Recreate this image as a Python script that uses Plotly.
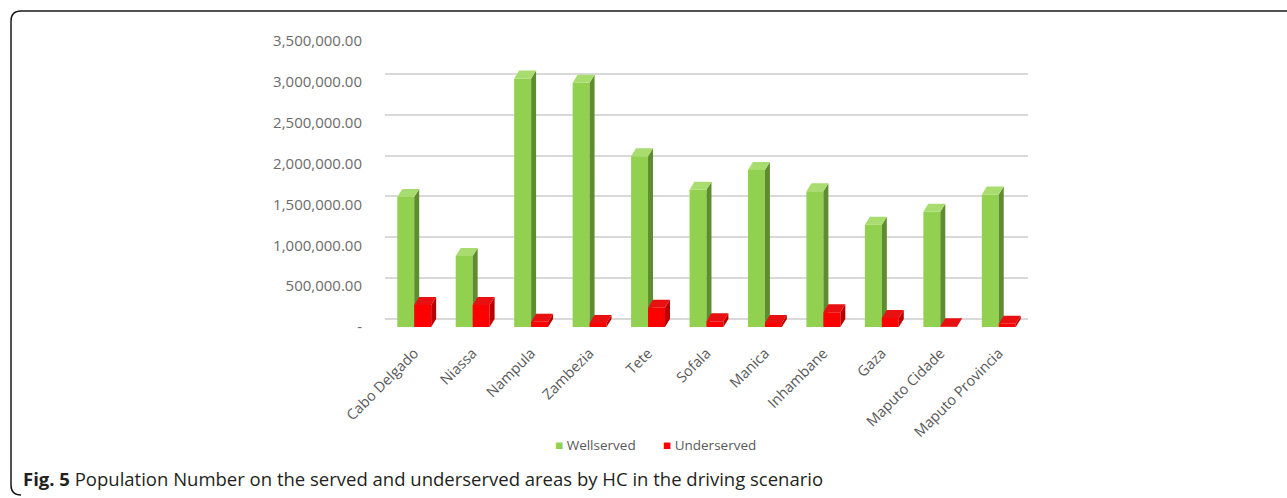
import plotly.graph_objects as go

# Provinces and population (people) per service category
provinces = ["Cabo Delgado", "Niassa", "Nampula", "Zambezia", "Tete", "Sofala",
             "Manica", "Inhambane", "Gaza", "Maputo Cidade", "Maputo Provincia"]
wellserved = [1590000, 870000, 3040000, 2990000, 2090000, 1680000,
              1920000, 1660000, 1250000, 1410000, 1620000]
underserved = [270000, 270000, 64000, 50000, 235000, 70000,
               50000, 180000, 110000, 10000, 40000]
y_ticks = [0, 500000, 1000000, 1500000, 2000000, 2500000, 3000000, 3500000]
y_tick_text = ["-", "500,000.00", "1,000,000.00", "1,500,000.00", "2,000,000.00",
               "2,500,000.00", "3,000,000.00", "3,500,000.00"]

W, H = 1287, 498
L, R, T, B = 385, 259, 41, 171
PW, PH = W - L - R, H - T - B
Y_MAX = 3500000

def px_x(px):
    return (px - L) / PW

def px_y(py):
    return (H - B - py) / PH

# pseudo-3D column geometry (in data units)
DX = 0.085
DY = Y_MAX / PH * 8
BAR_W = 0.29

def column_faces(vals, x_off):
    """Front, side and top faces of each column as closed polygons."""
    fx, fy, sx, sy, tx, ty = [], [], [], [], [], []
    for i, v in enumerate(vals):
        x0 = i + x_off
        x1 = x0 + BAR_W
        fx += [x0, x1, x1, x0, x0, None]
        fy += [0, 0, v, v, 0, None]
        sx += [x1, x1 + DX, x1 + DX, x1, x1, None]
        sy += [0, DY, v + DY, v, 0, None]
        tx += [x0, x1, x1 + DX, x0 + DX, x0, None]
        ty += [v, v, v + DY, v + DY, v, None]
    return (fx, fy), (sx, sy), (tx, ty)

fig = go.Figure()

# back-wall gridlines sit slightly above the front-plane tick labels
fig.add_trace(go.Scatter(x=[None], y=[None], yaxis="y2", showlegend=False,
                         hoverinfo="skip"))

series = [
    ("Wellserved", wellserved, -0.29, "#92D050", "#5E8C2E", "#A8DC6E"),
    ("Underserved", underserved, 0.0, "#FF0000", "#B80000", "#E81010"),
]
for name, vals, off, front, side, top in series:
    for (px_, py_), col in zip(column_faces(vals, off), (front, side, top)):
        fig.add_trace(go.Scatter(x=px_, y=py_, mode="lines", fill="toself",
                                 fillcolor=col, line=dict(width=0, color=col),
                                 name=name, showlegend=False, hoverinfo="skip"))

font = "Open Sans, Liberation Sans, sans-serif"
idx = list(range(len(provinces)))
fig.update_layout(
    width=W, height=H,
    margin=dict(l=L, r=R, t=T, b=B, autoexpand=False),
    paper_bgcolor="white", plot_bgcolor="rgba(0,0,0,0)",
    font=dict(family=font, color="#595959"),
    showlegend=False,
    xaxis=dict(range=[-0.5, 10.5], tickvals=idx, ticktext=provinces,
               tickangle=-45, showgrid=False, zeroline=False, showline=False,
               ticks="", ticklabelstandoff=14,
               tickfont=dict(size=14.5, color="#595959")),
    yaxis=dict(range=[0, Y_MAX], tickvals=y_ticks, ticktext=y_tick_text,
               showgrid=False, zeroline=False, showline=False, ticks="",
               ticklabelstandoff=22, tickfont=dict(size=15, color="#6b6b6b")),
    yaxis2=dict(range=[-DY, Y_MAX - DY], overlaying="y", tickvals=y_ticks,
                showticklabels=False, showgrid=True, gridcolor="#d9d9d9",
                gridwidth=1.5, zeroline=False, showline=False),
)

# legend entries
legend_items = [("Wellserved", "#92D050", 553), ("Underserved", "#FF0000", 661)]
for label, col, xpos in legend_items:
    fig.add_annotation(
        text=f"<span style='color:{col}'>■</span> {label}",
        xref="paper", yref="paper", x=px_x(xpos), y=px_y(445),
        xanchor="left", yanchor="middle", showarrow=False,
        font=dict(family=font, size=13.5, color="#595959"),
    )

# rounded figure frame (open on the right)
x0, y0, y1, rr = 11, 11, 495, 10
frame = (f"M {px_x(1300)},{px_y(y0)} L {px_x(x0 + rr)},{px_y(y0)} "
         f"Q {px_x(x0)},{px_y(y0)} {px_x(x0)},{px_y(y0 + rr)} "
         f"L {px_x(x0)},{px_y(y1 - rr)} "
         f"Q {px_x(x0)},{px_y(y1)} {px_x(x0 + rr)},{px_y(y1)}")
fig.add_shape(type="path", path=frame, xref="paper", yref="paper",
              line=dict(color="#1a1a1a", width=1.5))

fig.add_annotation(
    text="<b>Fig. 5</b> Population Number on the served and underserved areas by HC in the driving scenario",
    xref="paper", yref="paper", x=px_x(21), y=px_y(478), xanchor="left",
    yanchor="middle", showarrow=False,
    font=dict(family=font, size=18.5, color="#231f20"),
)

fig.write_html("out.html")
